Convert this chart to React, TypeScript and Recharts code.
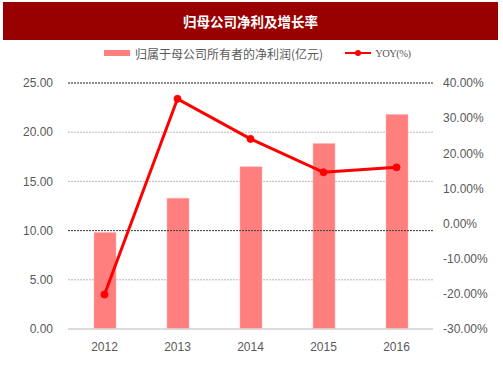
import React from 'react';
import { ComposedChart, Bar, Line, XAxis, YAxis, CartesianGrid, ReferenceLine } from 'recharts';

const years = ['2012', '2013', '2014', '2015', '2016'];
const profit = [9.8, 13.3, 16.5, 18.85, 21.8];
const yoy = [-20.2, 35.5, 24.1, 14.6, 16.0];
const leftTicks = [0, 5, 10, 15, 20, 25];
const rightTicks = [-30, -20, -10, 0, 10, 20, 30, 40];

const data = years.map((y, i) => ({ year: y, profit: profit[i], yoy: yoy[i] }));

const BAR_COLOR = '#FF7F7F';
const LINE_COLOR = '#FF0000';
const TEXT_COLOR = '#595959';

const LegendBox = () => (
  <div style={{ position: 'absolute', left: 104, top: 43, height: 20, display: 'flex', alignItems: 'center', fontFamily: '"Noto Sans CJK SC", sans-serif', fontSize: 12, color: TEXT_COLOR, whiteSpace: 'nowrap' }}>
    <svg width={26} height={8} style={{ marginRight: 5 }}>
      <rect x={0} y={1} width={26} height={6} fill={BAR_COLOR} />
    </svg>
    <span>归属于母公司所有者的净利润(亿元)</span>
    <svg width={26} height={10} style={{ marginLeft: 22, marginRight: 4 }}>
      <line x1={0} y1={5} x2={26} y2={5} stroke={LINE_COLOR} strokeWidth={2} />
      <circle cx={13} cy={5} r={3} fill={LINE_COLOR} />
    </svg>
    <span style={{ fontFamily: '"Liberation Serif", serif', fontSize: 10.5, letterSpacing: -0.5 }}>YOY(%)</span>
  </div>
);

export default function App() {
  return (
    <div style={{ position: 'absolute', left: 0, top: 0, width: 503, height: 378, background: '#fff' }}>
      <div style={{ position: 'absolute', left: 3, top: 2, width: 495, height: 38, background: '#990000', color: '#fff', display: 'flex', alignItems: 'center', justifyContent: 'center', fontFamily: '"Noto Sans CJK SC", sans-serif', fontWeight: 'bold', fontSize: 13.5 }}>
        归母公司净利及增长率
      </div>
      <LegendBox />
      <ComposedChart width={503} height={378} data={data} margin={{ top: 83, right: 0, bottom: 19, left: 0 }}>
        <CartesianGrid yAxisId="left" vertical={false} stroke="#b8b8b8" strokeDasharray="2 1" />
        <XAxis dataKey="year" height={30} tickLine={false} axisLine={{ stroke: '#d9d9d9', strokeWidth: 1.5 }} tick={{ fill: TEXT_COLOR, fontSize: 12, fontFamily: '"Liberation Sans", Arial, sans-serif' }} tickSize={0} tickMargin={13} />
        <YAxis yAxisId="left" domain={[0, 25]} ticks={leftTicks} width={68} axisLine={false} tickLine={false} tickSize={0} tickMargin={15} tickFormatter={(v) => Number(v).toFixed(2)} tick={{ fill: TEXT_COLOR, fontSize: 12, fontFamily: '"Liberation Sans", Arial, sans-serif' }} />
        <YAxis yAxisId="right" orientation="right" domain={[-30, 40]} ticks={rightTicks} width={70} axisLine={false} tickLine={false} tickSize={0} tickMargin={10} tickFormatter={(v) => Number(v).toFixed(2) + '%'} tick={{ fill: TEXT_COLOR, fontSize: 12, fontFamily: '"Liberation Sans", Arial, sans-serif', textAnchor: 'start' }} />
        <ReferenceLine yAxisId="left" y={25} stroke="#404040" strokeDasharray="2 1" />
        <ReferenceLine yAxisId="left" y={10} stroke="#404040" strokeDasharray="2 1" />
        <Bar yAxisId="left" dataKey="profit" fill={BAR_COLOR} stroke="#FFB0B0" strokeWidth={0.5} barSize={22} isAnimationActive={false} />
        <Line yAxisId="right" dataKey="yoy" stroke={LINE_COLOR} strokeWidth={3} dot={{ r: 3.5, fill: LINE_COLOR, stroke: LINE_COLOR, strokeWidth: 1 }} activeDot={false} isAnimationActive={false} />
      </ComposedChart>
    </div>
  );
}
